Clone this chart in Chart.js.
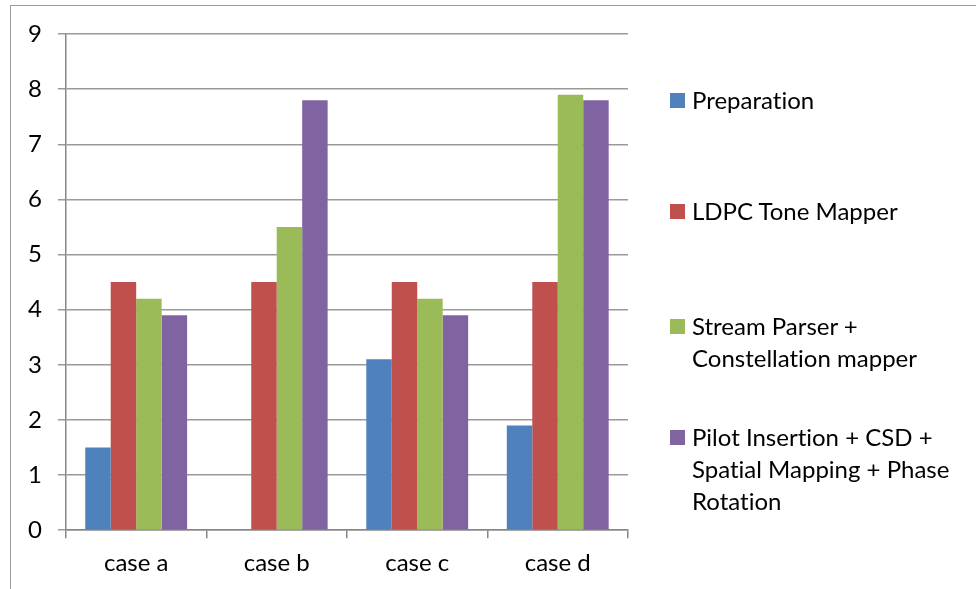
<!DOCTYPE html>
<html>
<head>
<meta charset="utf-8">
<script src="https://cdn.jsdelivr.net/npm/chart.js@4/dist/chart.umd.min.js"></script>
<style>
    body { margin: 0; background: #fff; }
    #wrap { position: relative; width: 976px; height: 589px; }
    #frame {
        position: absolute; left: 10px; top: 5px; right: -4px; bottom: -4px;
        border-top: 1.5px solid #9a9a9a; border-left: 1.5px solid #9a9a9a;
    }
    #chart { position: absolute; left: 0; top: 0; }
    #legend {
        position: absolute; left: 670px; top: 0;
        font-family: Lato, sans-serif; font-size: 24px; color: #000;
        font-variant-ligatures: none;
    }
    .item { position: absolute; left: 0; white-space: pre; line-height: 32px; }
    .box { position: absolute; left: 0; top: 9px; width: 15px; height: 15px; }
    .txt { position: absolute; left: 22px; top: 0; }
</style>
</head>
<body>
<div id="wrap">
    <div id="frame"></div>
    <canvas id="chart" width="976" height="589"></canvas>
    <div id="legend"></div>
</div>
<script>
// 数据
const categories = ['case a', 'case b', 'case c', 'case d'];
const seriesNames = [
    'Preparation',
    'LDPC Tone Mapper',
    'Stream Parser +\nConstellation mapper',
    'Pilot Insertion + CSD +\nSpatial Mapping + Phase\nRotation'
];
const preparation = [1.5, 0, 3.1, 1.9];
const ldpcToneMapper = [4.5, 4.5, 4.5, 4.5];
const streamParser = [4.2, 5.5, 4.2, 7.9];
const pilotInsertion = [3.9, 7.8, 3.9, 7.8];
const yTicks = [0, 1, 2, 3, 4, 5, 6, 7, 8, 9];

const colors = ['#4F81BD', '#C0504D', '#9BBB59', '#8064A2'];
const values = [preparation, ldpcToneMapper, streamParser, pilotInsertion];

const font = { family: 'Lato, sans-serif', size: 24 };

const ctx = document.getElementById('chart').getContext('2d');
new Chart(ctx, {
    type: 'bar',
    data: {
        labels: categories,
        datasets: seriesNames.map(function(name, i) {
            return {
                label: name,
                data: values[i],
                backgroundColor: colors[i],
                borderWidth: 0,
                categoryPercentage: 0.725,
                barPercentage: 1
            };
        })
    },
    options: {
        responsive: false,
        animation: false,
        layout: { padding: { top: 34, right: 348, left: 12, bottom: 0 } },
        plugins: {
            legend: { display: false },
            tooltip: { enabled: false }
        },
        scales: {
            x: {
                offset: true,
                grid: {
                    offset: true,
                    drawOnChartArea: false,
                    drawTicks: true,
                    tickLength: 8,
                    color: '#868686',
                    lineWidth: 1.5
                },
                border: { color: '#868686', width: 1.5 },
                ticks: { font: font, color: '#000', padding: 11 }
            },
            y: {
                min: 0,
                max: 9,
                afterBuildTicks: function(axis) {
                    axis.ticks = yTicks.map(function(v) { return { value: v }; });
                },
                grid: {
                    color: '#9a9a9a',
                    lineWidth: 1.5,
                    tickLength: 8
                },
                border: { color: '#868686', width: 1.5 },
                ticks: { font: font, color: '#000', padding: 16 }
            }
        }
    }
});

// 图例
const legendTops = [84, 195, 310, 421];
const legend = document.getElementById('legend');
seriesNames.forEach(function(name, i) {
    const item = document.createElement('div');
    item.className = 'item';
    item.style.top = legendTops[i] + 'px';
    item.innerHTML = '<div class="box" style="background:' + colors[i] + '"></div><div class="txt"></div>';
    item.querySelector('.txt').textContent = name;
    legend.appendChild(item);
});
</script>
</body>
</html>
